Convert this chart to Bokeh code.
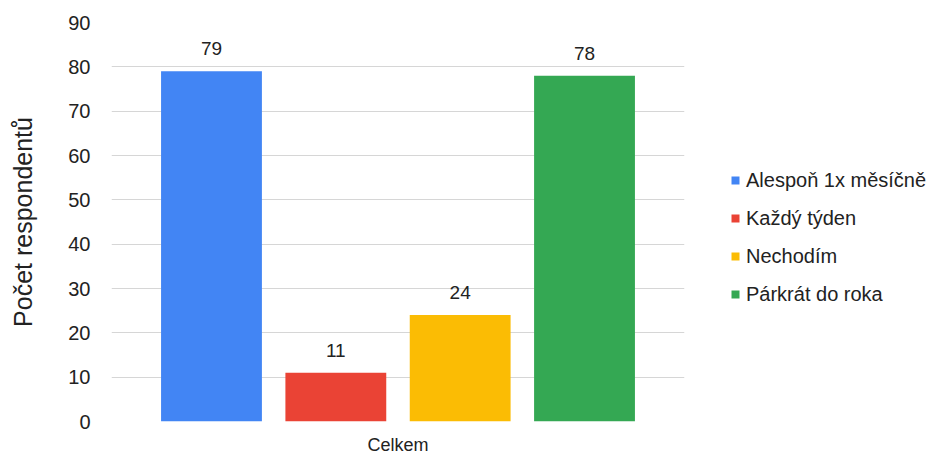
from bokeh.plotting import figure
from bokeh.models import ColumnDataSource, Range1d, FixedTicker, LabelSet
from bokeh.core.properties import value
from bokeh.embed import file_html
from bokeh.resources import INLINE

# data
categories = ["Alespoň 1x měsíčně", "Každý týden", "Nechodím", "Párkrát do roka"]
values = [79, 11, 24, 78]
colors = ["#4285F4", "#EA4335", "#FBBC04", "#34A853"]
group_label = "Celkem"
y_ticks = [0, 10, 20, 30, 40, 50, 60, 70, 80, 90]

FONT = "Liberation Sans"
n = len(categories)
step = 0.217
xs = [0.5 + (i - (n - 1) / 2) * step for i in range(n)]

src = ColumnDataSource(dict(x=xs, top=values, cat=categories, color=colors,
                            lab=[str(v) for v in values]))

p = figure(frame_width=573, frame_height=399, output_backend="svg",
           toolbar_location=None, x_range=Range1d(0, 1), y_range=Range1d(0, 90),
           min_border_left=111, min_border_right=242, min_border_top=22,
           min_border_bottom=28)
p.outline_line_color = None
p.background_fill_color = "white"
p.border_fill_color = "white"

p.vbar(x="x", top="top", width=0.176, bottom=0, source=src, fill_color="color",
       line_color=None, legend_field="cat")

labels = LabelSet(x="x", y="top", text="lab", source=src, text_align="center",
                  text_baseline="alphabetic", y_offset=16, text_font=value(FONT),
                  text_font_size=value("19px"), text_color=value("#222222"))
p.add_layout(labels)

# axes
p.xaxis.ticker = FixedTicker(ticks=[0.5])
p.xaxis.major_label_overrides = {0.5: group_label}
p.xaxis.major_label_text_font = FONT
p.xaxis.major_label_text_font_size = "18px"
p.xaxis.major_label_text_color = "#222222"
p.xaxis.major_label_standoff = 7
p.xaxis.axis_line_color = None
p.xaxis.major_tick_line_color = None
p.xaxis.minor_tick_line_color = None

p.yaxis.ticker = FixedTicker(ticks=y_ticks)
p.yaxis.major_label_text_font = FONT
p.yaxis.major_label_text_font_size = "20px"
p.yaxis.major_label_text_color = "#222222"
p.yaxis.major_label_standoff = 15
p.yaxis.axis_line_color = None
p.yaxis.major_tick_line_color = None
p.yaxis.minor_tick_line_color = None
p.yaxis.axis_label = "Počet respondentů"
p.yaxis.axis_label_text_font = FONT
p.yaxis.axis_label_text_font_size = "25px"
p.yaxis.axis_label_text_font_style = "normal"
p.yaxis.axis_label_text_color = "#222222"
p.yaxis.axis_label_standoff = 28

p.xgrid.grid_line_color = None
p.ygrid.grid_line_color = "#d6d6d6"
p.ygrid.grid_line_width = 1

lg = p.legend[0]
p.center.remove(lg)
p.add_layout(lg, "right")
lg.location = (46, 115)
lg.background_fill_alpha = 0
lg.border_line_color = None
lg.padding = 0
lg.margin = 0
lg.glyph_width = 10
lg.glyph_height = 10
lg.label_standoff = 6
lg.label_text_font = FONT
lg.label_text_font_size = "20px"
lg.label_text_color = "#222222"
lg.label_height = 24
lg.spacing = 14

open("out.html", "w").write(file_html(p, INLINE))
